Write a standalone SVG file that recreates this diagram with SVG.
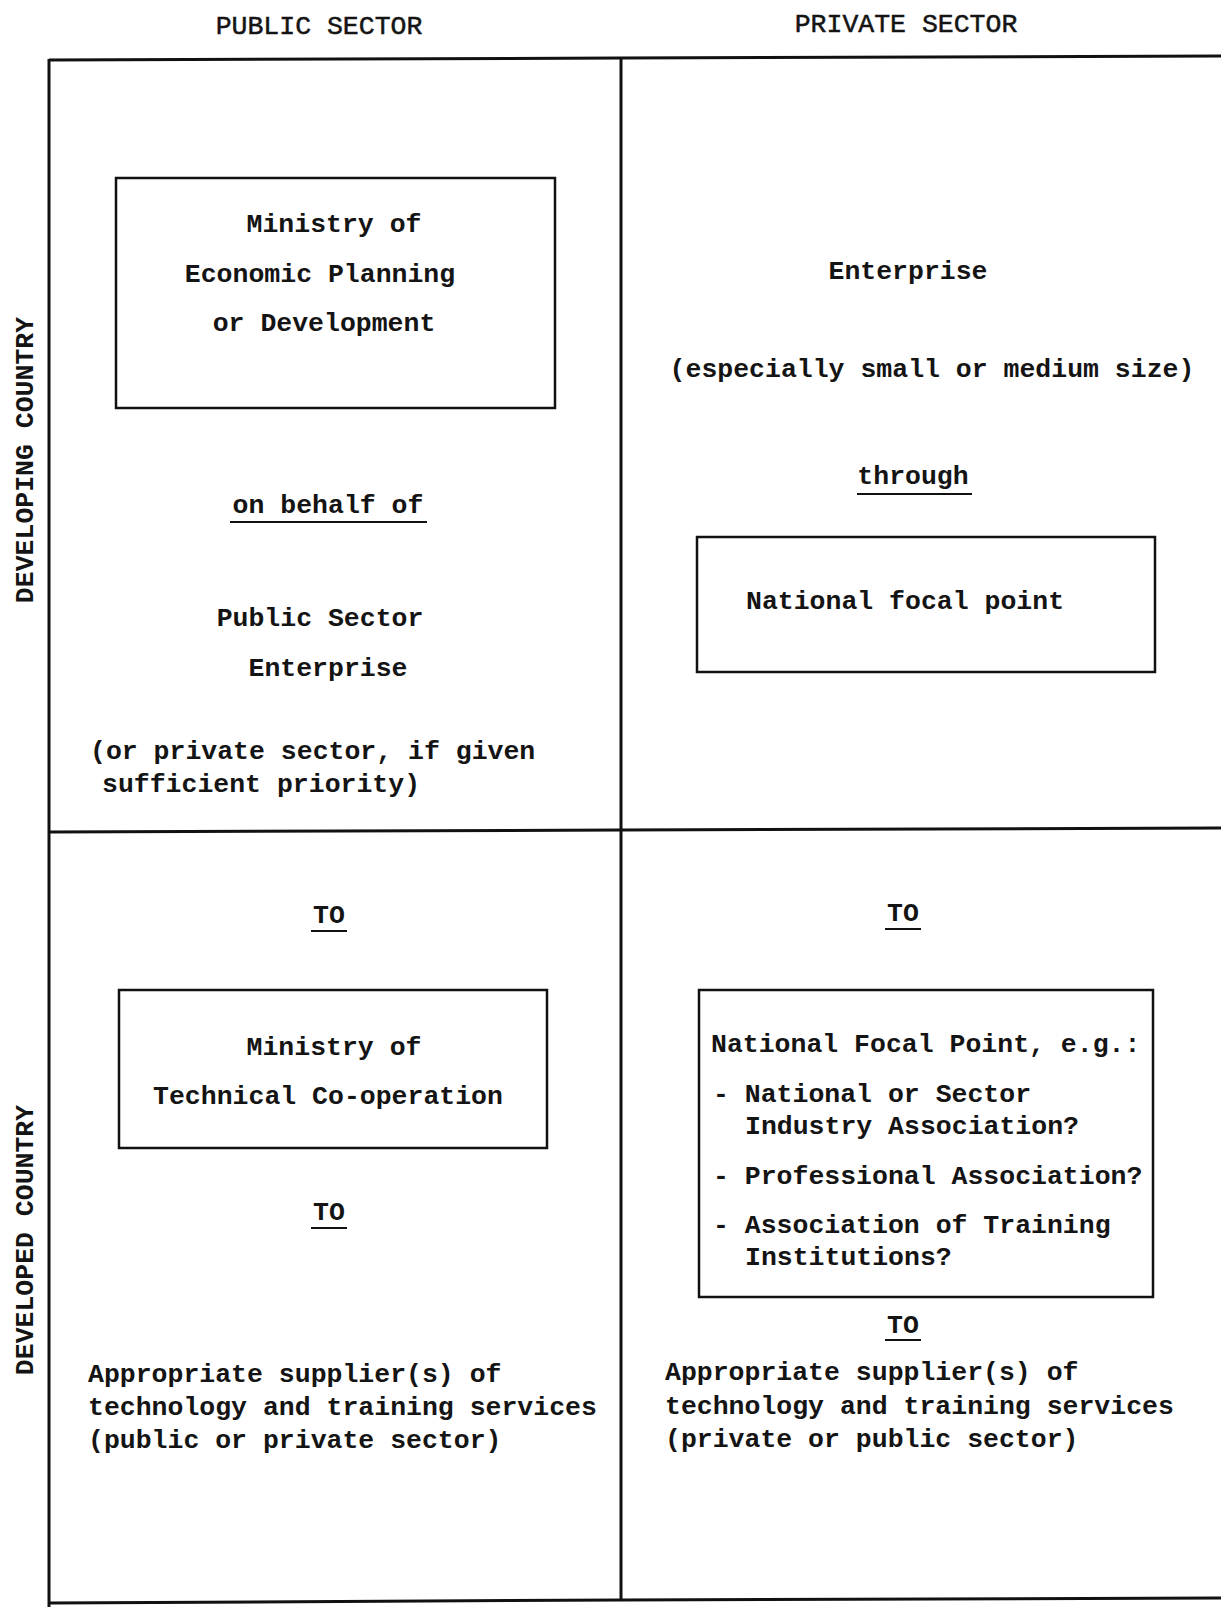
<svg xmlns="http://www.w3.org/2000/svg" width="1221" height="1607" viewBox="0 0 1221 1607">
<style>
.t{font-family:"Liberation Mono","DejaVu Sans Mono",monospace;font-size:26.5px;font-weight:bold;fill:#141414}
.h{font-family:"Liberation Mono","DejaVu Sans Mono",monospace;font-size:26.5px;font-weight:normal;fill:#141414;stroke:#141414;stroke-width:0.5}
.c{text-anchor:middle}
.grid{fill:none;stroke:#111;stroke-width:3}
.box{fill:none;stroke:#111;stroke-width:2.5}
.ul{stroke:#111;stroke-width:2}
</style>
<rect width="1221" height="1607" fill="#fff"/>
<g id="grid">
<polyline class="grid" points="49,60 621,58 1221,56"/>
<polyline class="grid" points="49,832 621,830 1221,828"/>
<polyline class="grid" points="49,1603 621,1600 1221,1598"/>
<line class="grid" x1="49" y1="59" x2="49" y2="1607"/>
<line class="grid" x1="621" y1="57" x2="621" y2="1600"/>
</g>
<g id="headers">
<text class="h c" x="319" y="34">PUBLIC SECTOR</text>
<text class="h c" x="906" y="32">PRIVATE SECTOR</text>
<text class="t c" transform="translate(33,460) rotate(-90)">DEVELOPING COUNTRY</text>
<text class="t c" transform="translate(33,1240) rotate(-90)">DEVELOPED COUNTRY</text>
</g>
<g id="ministry-economic-planning">
<rect class="box" x="116" y="178" width="439" height="230"/>
<text class="t c" x="334" y="232">Ministry of</text>
<text class="t c" x="320" y="282">Economic Planning</text>
<text class="t c" x="324" y="331">or Development</text>
</g>
<g id="on-behalf-of">
<text class="t c" x="328" y="513">on behalf of</text>
<line class="ul" x1="230" y1="522" x2="427" y2="522"/>
</g>
<g id="public-sector-enterprise">
<text class="t c" x="320" y="626">Public Sector</text>
<text class="t c" x="328" y="676">Enterprise</text>
<text class="t" x="90" y="759">(or private sector, if given</text>
<text class="t" x="102" y="792">sufficient priority)</text>
</g>
<g id="enterprise-private">
<text class="t c" x="908" y="279">Enterprise</text>
<text class="t c" x="932" y="377">(especially small or medium size)</text>
</g>
<g id="through">
<text class="t c" x="913" y="484">through</text>
<line class="ul" x1="857" y1="494" x2="972" y2="494"/>
</g>
<g id="national-focal-point">
<rect class="box" x="697" y="537" width="458" height="135"/>
<text class="t" x="746" y="609">National focal point</text>
</g>
<g id="to-public-1">
<text class="t c" x="329" y="923">TO</text>
<line class="ul" x1="311" y1="931" x2="347" y2="931"/>
</g>
<g id="ministry-technical-cooperation">
<rect class="box" x="119" y="990" width="428" height="158"/>
<text class="t c" x="334" y="1055">Ministry of</text>
<text class="t c" x="328" y="1104">Technical Co-operation</text>
</g>
<g id="to-public-2">
<text class="t c" x="329" y="1220">TO</text>
<line class="ul" x1="311" y1="1228" x2="347" y2="1228"/>
</g>
<g id="supplier-public">
<text class="t" x="88" y="1382">Appropriate supplier(s) of</text>
<text class="t" x="88" y="1415">technology and training services</text>
<text class="t" x="88" y="1448">(public or private sector)</text>
</g>
<g id="to-private-1">
<text class="t c" x="903" y="921">TO</text>
<line class="ul" x1="885" y1="929" x2="921" y2="929"/>
</g>
<g id="national-focal-point-eg">
<rect class="box" x="699" y="990" width="454" height="307"/>
<text class="t" x="711" y="1052">National Focal Point, e.g.:</text>
<text class="t" x="713" y="1102">- National or Sector</text>
<text class="t" x="745" y="1134">Industry Association?</text>
<text class="t" x="713" y="1184">- Professional Association?</text>
<text class="t" x="713" y="1233">- Association of Training</text>
<text class="t" x="745" y="1265">Institutions?</text>
</g>
<g id="to-private-2">
<text class="t c" x="903" y="1333">TO</text>
<line class="ul" x1="885" y1="1340" x2="921" y2="1340"/>
</g>
<g id="supplier-private">
<text class="t" x="665" y="1380">Appropriate supplier(s) of</text>
<text class="t" x="665" y="1414">technology and training services</text>
<text class="t" x="665" y="1447">(private or public sector)</text>
</g>
</svg>
